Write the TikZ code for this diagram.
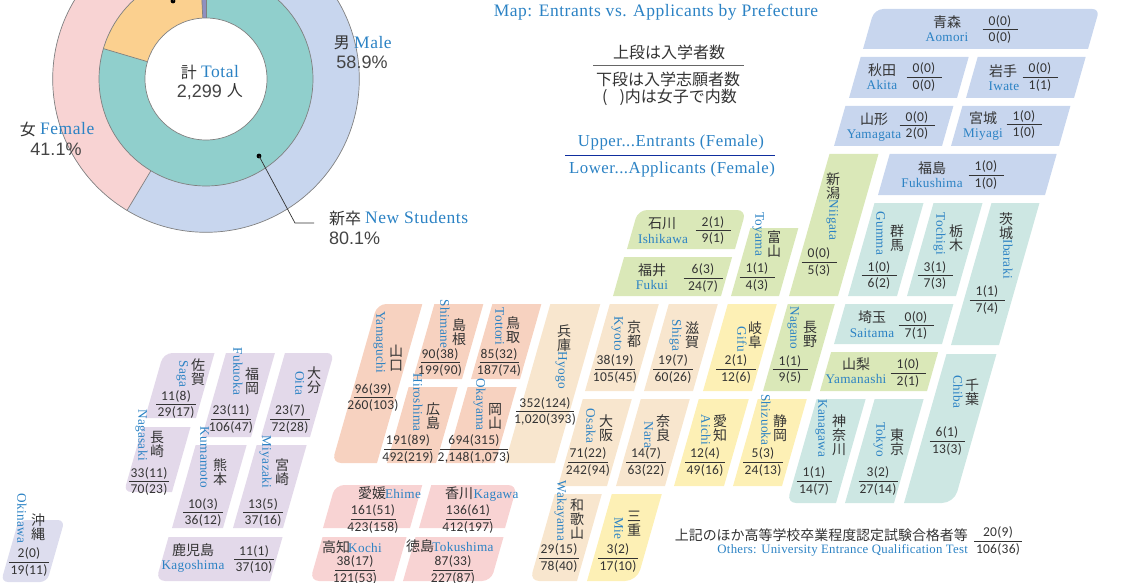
\documentclass[tikz,border=0pt]{standalone}
\usepackage{fontspec}
\usetikzlibrary{calc}
\setmainfont{Liberation Sans}
\newfontfamily\jpf{Noto Sans CJK JP}
\newfontfamily\enf[LetterSpace=2.5]{Liberation Serif}
\newfontfamily\enw[LetterSpace=3]{Liberation Serif}
\newfontfamily\eno[LetterSpace=2]{Liberation Serif}
\newfontfamily\numf[LetterSpace=2]{Carlito}
\newfontfamily\bigf{Liberation Sans}
\definecolor{ink}{HTML}{333333}
\definecolor{bigink}{HTML}{444444}
\definecolor{enblue}{HTML}{2B82C4}
\definecolor{tohoku}{HTML}{C8D6EE}
\definecolor{kanto}{HTML}{CDE7E3}
\definecolor{chubu}{HTML}{DAE8B8}
\definecolor{tokai}{HTML}{FDF0B5}
\definecolor{kinki}{HTML}{F8E6CE}
\definecolor{chugoku}{HTML}{F7D2C0}
\definecolor{shikoku}{HTML}{F8D3D3}
\definecolor{kyushu}{HTML}{E3D9EA}
\definecolor{okinawa}{HTML}{DDDDEE}
\definecolor{ringteal}{HTML}{90CFCC}
\definecolor{ringor}{HTML}{FBD08F}
\definecolor{ringpu}{HTML}{8F8FC0}
\tikzset{
  kj/.style={font=\jpf\fontsize{14}{14}\selectfont,text=ink,inner sep=0pt,align=center},
  en/.style={font=\enf\fontsize{13.2}{13.2}\selectfont,text=enblue,inner sep=0pt,text height=8pt,text depth=2.5pt},
  ven/.style={en,rotate=-90},
  num/.style={font=\numf\fontsize{13.5}{13.5}\selectfont,text=ink,inner sep=0pt,text height=8.5pt,text depth=0pt},
  rl/.style={draw=ink,line width=0.8pt},
  jpm/.style={font=\jpf\fontsize{16}{16}\selectfont,text=ink,inner sep=0pt},
  jpo/.style={font=\jpf\fontsize{13.95}{13.95}\selectfont,text=ink,inner sep=0pt},
  enm/.style={font=\enw\fontsize{17.5}{17.5}\selectfont,text=enblue,inner sep=0pt,text height=11pt,text depth=3.5pt},
  enl/.style={font=\enw\fontsize{16.8}{16.8}\selectfont,text=enblue,inner sep=0pt,text height=11pt,text depth=3.5pt},
  eno/.style={font=\eno\fontsize{12.8}{12.8}\selectfont,text=enblue,inner sep=0pt,text height=8pt,text depth=2.5pt},
  bign/.style={font=\bigf\fontsize{18}{18}\selectfont,text=bigink,inner sep=0pt,text height=13pt,text depth=0pt},
  bigj/.style={font=\jpf\fontsize{16}{16}\selectfont,text=ink,inner sep=0pt},
  ring/.style={draw=black!50,line width=0.7pt},
}
% corner radii: BL/TL/TR/BR
\def\radset#1/#2/#3/#4\relax{\def\ra{#1}\def\rb{#2}\def\rc{#3}\def\rd{#4}}
\newcommand\shp[6][0.01/0.01/0.01/0.01]{%
  \radset #1\relax
  \pgfmathsetmacro\sdx{(#6-#5)*0.285}%
  \coordinate (sBL) at (#3,#6);
  \coordinate (sBR) at (#4,#6);
  \coordinate (sTR) at ({#4+\sdx},#5);
  \coordinate (sTL) at ({#3+\sdx},#5);
  \fill[#2] ($(sBL)!.5!(sBR)$)
     [rounded corners=\rd pt] -- (sBR) -- ($(sBR)!.5!(sTR)$)
     [rounded corners=\rc pt] -- (sTR) -- ($(sTR)!.5!(sTL)$)
     [rounded corners=\rb pt] -- (sTL) -- ($(sTL)!.5!(sBL)$)
     [rounded corners=\ra pt] -- (sBL) -- ($(sBL)!.5!(sBR)$);
}
\newcommand\hlab[7]{%
  \node[kj] (#1j) at (#2,#3) {#4};
  \node[en] (#1e) at (#5,{#6+2}) {#7};
}
\newcommand\vlab[7]{%
  \node[kj] (#1j) at (#2,#3) {#4};
  \node[ven] (#1e) at (#5,#6) {#7};
}
\newcommand\frc[6]{%
  \node[num] (#1u) at (#2,{#3-8.7}) {#5};
  \node[num] (#1l) at (#2,{#3+8}) {#6};
  \draw[rl] ({#2-#4/2},#3) -- ({#2+#4/2},#3);
}
\newcommand\ringsec[4]{% from angle a to b, radius r, colour
  \fill[#4] (dc) -- plot[domain=#1:#2,samples=120,smooth] ({206+#3*sin(\x)},{79-#3*cos(\x)}) -- cycle;
}
\begin{document}
\begin{tikzpicture}[x=1pt,y=-1pt]
\useasboundingbox (0,0) rectangle (1146,583);
\begin{scope}
\clip (0,0) rectangle (1146,583);
\coordinate (dc) at (206,79);
\fill[tohoku] (dc) circle[radius=153.3];
\ringsec{211}{360}{153.3}{shikoku}
\draw[ring] (dc) circle[radius=153.3];
\draw[ring] ({206+107*sin(211)},{79-107*cos(211)}) -- ({206+153.3*sin(211)},{79-153.3*cos(211)});
\fill[ringteal] (dc) circle[radius=107];
\ringsec{286.5}{357}{107}{ringor}
\ringsec{357}{360}{107}{ringpu}
\draw[ring] (dc) circle[radius=107];
\draw[ring] (dc) -- ({206+107*sin(286.5)},{79-107*cos(286.5)});
\draw[ring] (dc) -- (206,-28);
\draw[ring] (dc) -- ({206+107*sin(357)},{79-107*cos(357)});
\fill[white,draw=black!50,line width=0.7pt] (dc) circle[radius=61];
\fill[black] (173,1) circle[radius=2.4];
\draw[ink,line width=0.7pt] (173,1) -- (173,-5);
\end{scope}
\coordinate (ldot) at (259,156);
\coordinate (lbend) at (295,223);
\coordinate (lend) at (314,223);
\fill[black] (ldot) circle[radius=2.4];
\draw[ink,line width=0.7pt] (ldot) -- (lbend) -- (lend);
% donut labels
\node[anchor=east,bigj] (mj) at (350,43) {男};
\node[anchor=west,font=\enw\fontsize{17.5}{17.5}\selectfont,text=enblue,inner sep=0pt] (me) at (354,43) {Male};
\node[bign] (mv) at (362,62) {58.9\%};
\node[anchor=east,bigj] (fj) at (36,129) {女};
\node[anchor=west,font=\enw\fontsize{17.5}{17.5}\selectfont,text=enblue,inner sep=0pt] (fe) at (40,129) {Female};
\node[bign] (fv) at (56,149) {41.1\%};
\node[anchor=east,bigj] (tj) at (197,72) {計};
\node[anchor=west,font=\enw\fontsize{17.5}{17.5}\selectfont,text=enblue,inner sep=0pt] (te) at (201,72) {Total};
\node[bign,anchor=east] (tv) at (222,91) {2,299};
\node[bigj,anchor=east] (tu) at (243,91) {人};
\node[anchor=west,bigj] (nj) at (329,218) {新卒};
\node[anchor=west,font=\enw\fontsize{17.5}{17.5}\selectfont,text=enblue,inner sep=0pt] (ne) at (365,218) {New Students};
\node[anchor=west,bign] (nv) at (329,238) {80.1\%};
% legend
\node[enm] (title) at (656,12.5) {Map: Entrants vs. Applicants by Prefecture};
\node[jpm] (lg1) at (669,52) {上段は入学者数};
\draw[draw=black!60,line width=1pt] (593,66) -- (744,66);
\node[jpm] (lg2) at (668,79) {下段は入学志願者数};
\node[jpm] (lg3) at (669.5,97) {(\hspace{12pt})内は女子で内数};
\node[enl] (lg4) at (671,143) {Upper...Entrants (Female)};
\draw[draw=enblue!50!blue!70!black,line width=1pt] (565,155.5) -- (775,155.5);
\node[enl] (lg5) at (672,170) {Lower...Applicants (Female)};
\node[jpo,anchor=east] (oj) at (968,535) {上記のほか高等学校卒業程度認定試験合格者等};
\node[eno,anchor=east] (oe) at (968,551) {Others: University Entrance Qualification Test};
\frc{ot}{998}{541}{48}{20(9)}{106(36)}
% Tohoku
\shp[0.01/9/7/0.01]{tohoku}{863}{1088}{9}{49}
\hlab{ao}{947}{22}{青森}{947}{37}{Aomori}\frc{ao}{1000}{29.5}{35}{0(0)}{0(0)}
\shp{tohoku}{849}{957}{57}{98}
\hlab{ak}{882}{70}{秋田}{882}{85}{Akita}\frc{ak}{924}{77}{35}{0(0)}{0(0)}
\shp{tohoku}{966}{1074}{57}{98}
\hlab{iw}{1003}{71}{岩手}{1004}{86}{Iwate}\frc{iw}{1040}{77}{35}{0(0)}{1(1)}
\shp{tohoku}{834}{942}{106}{146}
\hlab{ym}{874}{119}{山形}{874}{134}{Yamagata}\frc{ym}{917}{125.5}{35}{0(0)}{2(0)}
\shp{tohoku}{951}{1059}{106}{146}
\hlab{my}{983}{118}{宮城}{983}{133}{Miyagi}\frc{my}{1024}{124.5}{35}{1(0)}{1(0)}
\shp{tohoku}{878}{1045}{154}{195}
\hlab{fk}{932}{168}{福島}{932}{183}{Fukushima}\frc{fk}{986}{175}{35}{1(0)}{1(0)}
% Kanto
\shp{kanto}{848}{897}{203}{296}
\vlab{gu}{897}{238.5}{群\\馬}{879}{233.5}{Gumma}\frc{gu}{879}{275.5}{35}{1(0)}{6(2)}
\shp{kanto}{907}{956}{203}{296}
\vlab{to}{956}{238.5}{栃\\木}{939}{234}{Tochigi}\frc{to}{935}{275.5}{35}{3(1)}{7(3)}
\shp{kanto}{951}{999}{203}{345}
\vlab{ib}{1006}{226}{茨\\城}{1006}{259}{Ibaraki}\frc{ib}{987}{300}{35}{1(1)}{7(4)}
\shp{kanto}{834}{942}{304}{344}
\hlab{sa}{872}{317}{埼玉}{872}{332.5}{Saitama}\frc{sa}{916}{325.5}{35}{0(0)}{7(1)}
\shp[0.01/0.01/0.01/12]{kanto}{904}{954}{354}{503}
\vlab{ch}{972}{392.5}{千\\葉}{956}{391.5}{Chiba}\frc{ch}{947}{441}{35}{6(1)}{13(3)}
\shp[9/0.01/0.01/0.01]{kanto}{787}{836}{399}{503}
\vlab{ka}{839}{435}{神\\奈\\川}{821}{428.5}{Kanagawa}\frc{ka}{814}{481}{35}{1(1)}{14(7)}
\shp{kanto}{845}{894}{399}{503}
\vlab{tk}{897}{442}{東\\京}{879}{439.5}{Tokyo}\frc{tk}{878}{481}{39}{3(2)}{27(14)}
% Chubu
\shp{chubu}{789}{838}{154}{296}
\vlab{ni}{833}{186}{新\\潟}{832}{220}{Niigata}\frc{ni}{819}{262}{35}{0(0)}{5(3)}
\shp{chubu}{820}{927}{352}{391}
\hlab{yn}{856}{364}{山梨}{856}{379}{Yamanashi}\frc{yn}{908}{373}{35}{1(0)}{2(1)}
\shp{chubu}{763}{810}{304}{391}
\vlab{ng}{810}{334}{長\\野}{793}{328}{Nagano}\frc{ng}{790}{369.5}{35}{1(1)}{9(5)}
\shp[0.01/9/9/0.01]{chubu}{627}{735}{210}{249}
\hlab{is}{662}{224}{石川}{663}{239}{Ishikawa}\frc{is}{713}{230.5}{35}{2(1)}{9(1)}
\shp{chubu}{613}{721}{257}{296}
\hlab{fi}{652}{270}{福井}{652}{285}{Fukui}\frc{fi}{703}{278}{39}{6(3)}{24(7)}
\shp{chubu}{731}{779}{228}{296}
\vlab{ty}{774}{244.5}{富\\山}{758}{234}{Toyama}\frc{ty}{757}{277}{35}{1(1)}{4(3)}
% Tokai
\shp{tokai}{703}{752}{304}{391}
\vlab{gi}{755}{335.5}{岐\\阜}{740}{339.5}{Gifu}\frc{gi}{736}{369}{40}{2(1)}{12(6)}
\shp{tokai}{674}{724}{399}{486}
\vlab{ai}{720}{428.5}{愛\\知}{704}{429.5}{Aichi}\frc{ai}{705}{462}{40}{12(4)}{49(16)}
\shp{tokai}{733}{782}{399}{486}
\vlab{sz}{780}{428.5}{静\\岡}{764}{420}{Shizuoka}\frc{sz}{763}{462}{40}{5(3)}{24(13)}
\shp[0.01/0.01/0.01/12]{tokai}{587}{637}{494}{581}
\vlab{mi}{634}{524}{三\\重}{617}{528.5}{Mie}\frc{mi}{618}{558}{40}{3(2)}{17(10)}
% Kinki
\shp{kinki}{505}{555}{304}{463}
\vlab{hy}{564}{338.5}{兵\\庫}{561}{370}{Hyogo}\frc{hy}{545}{411.5}{58}{352(124)}{1,020(393)}
\shp{kinki}{585}{634}{304}{391}
\vlab{ky}{634}{334.5}{京\\都}{617}{333.5}{Kyoto}\frc{ky}{615}{369}{40}{38(19)}{105(45)}
\shp{kinki}{644}{693}{304}{391}
\vlab{sg}{692}{335.5}{滋\\賀}{675}{335.5}{Shiga}\frc{sg}{673}{369}{40}{19(7)}{60(26)}
\shp{kinki}{558}{607}{399}{486}
\vlab{os}{606}{428}{大\\阪}{589}{426}{Osaka}\frc{os}{588}{462}{40}{71(22)}{242(94)}
\shp{kinki}{616}{665}{399}{486}
\vlab{na}{663}{428}{奈\\良}{647}{435}{Nara}\frc{na}{646}{462}{40}{14(7)}{63(22)}
\shp[9/0.01/0.01/0.01]{kinki}{530}{577}{494}{581}
\vlab{wa}{577}{519}{和\\歌\\山}{560}{511}{Wakayama}\frc{wa}{559}{558}{40}{29(15)}{78(40)}
% Chugoku
\shp[9/9/0.01/0.01]{chugoku}{332}{377}{304}{463}
\vlab{yg}{396}{358}{山\\口}{379}{342.5}{Yamaguchi}\frc{yg}{373}{397.5}{39}{96(39)}{260(103)}
\shp{chugoku}{413}{462}{304}{379}
\vlab{sm}{459}{332.5}{島\\根}{443}{324}{Shimane}\frc{sm}{440}{362.5}{39}{90(38)}{199(90)}
\shp{chugoku}{471}{520}{304}{379}
\vlab{tt}{513}{330.5}{鳥\\取}{498}{326.5}{Tottori}\frc{tt}{499}{362.5}{39}{85(32)}{187(74)}
\shp{chugoku}{387}{436}{387}{463}
\vlab{hi}{433}{416}{広\\島}{416}{402.5}{Hiroshima}\frc{hi}{408}{449}{48}{191(89)}{492(219)}
\shp{chugoku}{446}{495}{387}{463}
\vlab{ok}{495}{416.5}{岡\\山}{479}{404.5}{Okayama}\frc{ok}{474}{449}{68}{694(315)}{2,148(1,073)}
% Shikoku
\shp[0.01/9/0.01/0.01]{shikoku}{323}{410}{485}{528}
\hlab{eh}{372}{493}{愛媛}{403}{494}{Ehime}\frc{eh}{373}{519}{45}{161(51)}{423(158)}
\shp[0.01/0.01/9/0.01]{shikoku}{419}{505}{485}{528}
\hlab{kg}{459}{493}{香川}{496}{494}{Kagawa}\frc{kg}{468}{519}{45}{136(61)}{412(197)}
\shp[9/0.01/0.01/0.01]{shikoku}{310}{394}{537}{581}
\hlab{kc}{336}{547}{高知}{365}{548}{Kochi}\frc{kc}{355}{570}{40}{38(17)}{121(53)}
\shp[0.01/0.01/0.01/9]{shikoku}{403}{491}{537}{581}
\hlab{ts}{420}{546}{徳島}{463}{547}{Tokushima}\frc{ts}{453}{570}{40}{87(33)}{227(87)}
% Kyushu
\shp[0.01/9/0.01/0.01]{kyushu}{145}{196}{353}{418}
\vlab{sj}{198}{372}{佐\\賀}{182}{374}{Saga}\frc{sj}{176}{404.5}{40}{11(8)}{29(17)}
\shp{kyushu}{202}{251}{353}{437}
\vlab{fo}{252}{381}{福\\岡}{236}{371.5}{Fukuoka}\frc{fo}{231}{419}{40}{23(11)}{106(47)}
\shp[0.01/0.01/7/0.01]{kyushu}{261}{310}{353}{437}
\vlab{oi}{314}{380.5}{大\\分}{298}{383}{Oita}\frc{oi}{290}{419}{40}{23(7)}{72(28)}
\shp[7/0.01/0.01/0.01]{kyushu}{124}{172}{427}{492}
\vlab{nk}{157}{444.5}{長\\崎}{141}{435}{Nagasaki}\frc{nk}{149}{481.5}{40}{33(11)}{70(23)}
\shp{kyushu}{172}{223}{445}{528}
\vlab{ku}{220}{472}{熊\\本}{203}{457.5}{Kumamoto}\frc{ku}{203}{512.5}{40}{10(3)}{36(12)}
\shp{kyushu}{233}{283}{445}{528}
\vlab{mz}{282}{472}{宮\\崎}{265}{462}{Miyazaki}\frc{mz}{263}{512.5}{40}{13(5)}{37(16)}
\shp[9/0.01/0.01/0.01]{kyushu}{156}{270}{537}{581}
\hlab{kj}{193}{550}{鹿児島}{193}{565}{Kagoshima}\frc{kj}{254}{559.5}{40}{11(1)}{37(10)}
% Okinawa
\shp[7/7/7/7]{okinawa}{1}{47}{520}{582}
\vlab{on}{38}{527}{沖\\縄}{20}{518.5}{Okinawa}\frc{on}{29}{562}{40}{2(0)}{19(11)}
\end{tikzpicture}
\end{document}
